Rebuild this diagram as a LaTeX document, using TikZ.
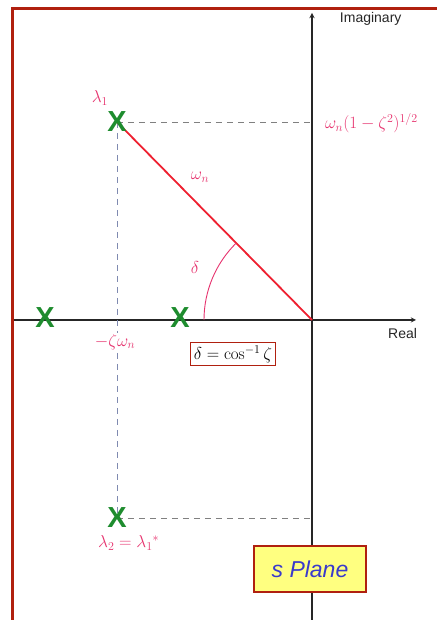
\documentclass[tikz,border=0pt]{standalone}
\usepackage{amsmath,amssymb}
\usepackage{xcolor}
\usepackage{fontspec}
\setsansfont{Liberation Sans}
\usepackage{tikz}
\usetikzlibrary{calc,arrows,angles,quotes}
\definecolor{framered}{HTML}{B0200F}
\definecolor{polegreen}{HTML}{1E8C2E}
\definecolor{labelpink}{HTML}{E6336E}
\definecolor{vecred}{HTML}{EE2030}
\definecolor{dashgray}{HTML}{7F8AB0}
\definecolor{planeblue}{HTML}{3A3ACC}
\definecolor{planeyellow}{HTML}{FFFF80}

\begin{document}
\begin{tikzpicture}[x=1pt,y=1pt,>=stealth,
		pole/.style={text=polegreen,font=\fontsize{29}{29}\selectfont\sffamily\bfseries,inner sep=0pt},
		lbl/.style={text=labelpink,font=\fontsize{17}{20}\selectfont,inner sep=1pt},
		guide/.style={dashgray,dashed,line width=0.9pt,dash pattern=on 6pt off 5pt},
		axis/.style={gray!30!black,line width=1.3pt}]
			\useasboundingbox (-312,-300) rectangle (124,320);
			\def\wx{-195}
			\def\wy{198}
			\def\r{108}
			\pgfmathsetmacro{\ang}{atan2(\wy,\wx)}
			
			% frame
			\draw[framered,line width=3pt] (-299.5,-302) -- (-299.5,311.5) -- (126,311.5);
			
			\coordinate (O) at (0,0);
			\draw[axis,->] (-298,0)--(104,0) node[below left,xshift=5pt,yshift=-4pt,font=\fontsize{14}{16}\selectfont\sffamily]{Real};
			\draw[axis,->] (0,-302)--(0,307) node[right,xshift=24pt,yshift=-6pt,font=\fontsize{14}{16}\selectfont\sffamily]{Imaginary};
			
			\coordinate (L1) at (\wx,\wy);
			\coordinate (L2) at (\wx,-\wy);
			
			\draw[guide] (L1)--(L2);
			\draw[guide,gray] (L1)--(L1 -| O);
			\draw[guide,gray] (L2)--(L2 -| O);
			\draw[vecred,line width=1.8pt] (L1)--(O);
			\draw[labelpink,line width=0.9pt] (-\r,0) arc (180:\ang:\r);
			
			\node[pole] (l1) at (L1) {X};
			\node[pole] (l2) at (L2) {X};
			\node[pole] (p1) at (-267,2) {X};
			\node[pole] (p2) at (-132,2) {X};
			
			\node[lbl] at (-212,222) {$\lambda_1$};
			\node[lbl,anchor=west] at (12,197) {$\omega_n(1-\zeta^2)^{1/2}$};
			\node[lbl] at (-112,143) {$\omega_n$};
			\node[lbl] at (-117,52) {$\delta$};
			\node[lbl,fill=white] at (-197,-22) {$-\zeta\omega_n$};
			\node[lbl,anchor=west] at (-215,-223) {$\lambda_2=\lambda_1{}^*$};
			
			\node[draw=framered,fill=white,line width=0.8pt,inner sep=3pt,font=\fontsize{17}{20}\selectfont] (dbox) at (-79,-34) {$\delta=\cos^{-1}\zeta$};
			\node[draw=framered,fill=planeyellow,line width=1.5pt,text=planeblue,font=\fontsize{23}{26}\selectfont\sffamily\itshape,minimum width=112pt,minimum height=46pt] (plane) at (-2,-249) {s Plane};
		\end{tikzpicture}
\end{document}
